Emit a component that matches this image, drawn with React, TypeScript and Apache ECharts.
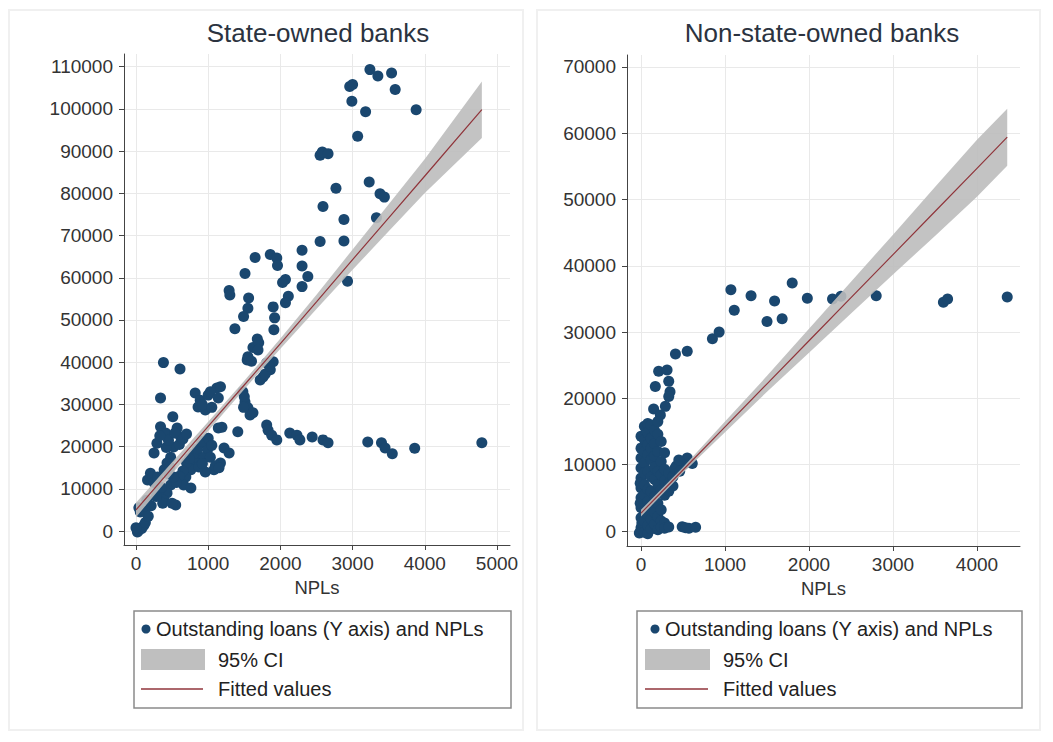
import React, { useEffect, useRef } from "react";
import * as echarts from "echarts";

const FONT = "'Liberation Sans', Arial, Helvetica, sans-serif";

// ---------- Tick labels ----------
const xTicksLeft = [0, 1000, 2000, 3000, 4000, 5000];
const yTicksLeft = [0, 10000, 20000, 30000, 40000, 50000, 60000, 70000, 80000, 90000, 100000, 110000];
const xTicksRight = [0, 1000, 2000, 3000, 4000];
const yTicksRight = [0, 10000, 20000, 30000, 40000, 50000, 60000, 70000];

// ---------- State-owned banks: scatter (NPLs, outstanding loans) ----------
const stateNPLs = [
  3240, 3350, 3540, 2960, 3000, 3590, 2990, 3180, 3880, 3070, 2550, 2580, 2660, 3230, 3380, 3440, 2770, 2590, 2880, 3330, 2880, 2550, 2930,
  1650, 1860, 1950, 1960, 1510, 2300, 2300, 2380, 2300, 2070, 2030, 1290, 1300, 1560, 2110, 2070, 1550, 1490, 1900, 1920, 1910, 1370, 1680, 1620, 1700, 1550, 1540, 1690, 1600, 1810, 1900, 1860, 1760, 1720, 1790, 1850,
  380, 610, 340, 510, 820, 890, 1000, 1120, 1030, 1140, 860, 960, 920, 1050, 1170, 1480, 1510, 1550, 1580, 1500, 1620, 1490, 1140, 1410, 1190,
  1810, 1830, 1880, 1950, 2130, 2230, 2270, 2440, 2590, 2660, 3210, 3400, 3450, 3550, 3860, 4790,
  340, 410, 290, 250, 570, 620, 520, 480, 430, 390, 200, 160, 230, 940, 990, 900, 830, 760, 690, 660, 760, 1030, 1170, 1080, 960, 1220, 1290,
  480, 430, 390, 550, 300, 150, 370, 500, 40, 60, 40, 110, 20, 80, 0, 130,
  800, 850, 910, 1000, 1050, 700, 740, 650, 600, 870, 920, 1100, 1150, 560, 520, 450, 470, 350, 280, 210, 120, 170, 250, 300, 420, 450, 540, 330, 600, 650, 700,
];
const stateLoans = [
  109300, 107800, 108500, 105300, 105800, 104600, 101800, 99300, 99800, 93500, 89000, 89800, 89400, 82700, 79900, 79100, 81200, 76900, 73800, 74200, 68700, 68600, 59200,
  64800, 65500, 64700, 62900, 61000, 66500, 62800, 60300, 57900, 59600, 58900, 57000, 55900, 55200, 55600, 54100, 52800, 50800, 53100, 50500, 47700, 47900, 45500, 43500, 44600, 41300, 40500, 42900, 40200, 39800, 40100, 38200, 36500, 35800, 37200, 39000,
  39900, 38400, 31500, 27100, 32700, 31000, 32200, 33900, 33000, 31500, 29400, 28700, 29900, 29300, 34200, 33000, 30600, 29200, 27500, 31800, 28000, 29300, 24400, 23500, 24600,
  25100, 23900, 22700, 21600, 23200, 22700, 21600, 22300, 21600, 20900, 21100, 20900, 19700, 18300, 19600, 20900,
  24700, 23200, 20800, 18500, 24400, 22300, 19900, 17500, 16100, 14500, 13700, 12100, 12800, 20800, 19200, 17500, 16100, 14500, 12800, 10900, 10200, 17500, 16100, 14500, 14000, 19700, 18500,
  10900, 9000, 7300, 6200, 9000, 7300, 6600, 6600, 5500, 4500, 200, 1400, -200, 600, 800, 2000,
  18300, 19500, 21200, 22000, 20300, 16200, 17200, 14200, 13000, 15200, 16000, 15500, 15000, 11500, 12800, 13500, 15200, 10300, 8200, 6000, 4800, 3500, 11500, 12800, 19800, 21500, 23200, 22600, 20500, 21800, 23000,
];

// ---------- State-owned banks: fitted values and 95% CI ----------
const stateFitX = [0, 500, 1000, 1500, 2000, 2500, 3000, 3500, 4000, 4790];
const stateFitY = [5000, 14900, 24800, 34600, 44400, 54300, 64300, 74200, 84100, 99800];
const stateCiLow = [3300, 13500, 23700, 33600, 43200, 52600, 61900, 71000, 80100, 93100];
const stateCiHigh = [6700, 16300, 25900, 35600, 45600, 56000, 66700, 77400, 88100, 106500];

// ---------- Non-state-owned banks: scatter ----------
const nonStateNPLs = [
  1070, 1310, 1110, 1590, 1800, 1500, 1680, 1980, 2280, 2380, 2800, 3600, 3650, 4360,
  850, 930, 410, 550, 210, 310, 170, 330, 345, 330, 290, 150, 230,
  470, 550, 610, 500, 420, 490, 570, 650, 530,
  0, 0, 0, 0, 0, 0, 0, 0, 0, 0, -20, 10, -10, -10,
  40, 40, 40, 40, 40, 40, 40, 40, 40, 40,
  80, 80, 80, 80, 80, 80, 80, 80, 80, 80,
  120, 120, 120, 120, 120, 120, 120, 120, 120,
  160, 160, 160, 160, 160, 160, 160, 160,
  200, 200, 200, 200, 200, 200, 200, 200,
  240, 240, 240, 240, 240, 240, 240,
  280, 280, 280, 280, 280, 280,
  330, 330, 330, 330, 380, 380, 400, 450, 460,
];
const nonStateLoans = [
  36400, 35500, 33300, 34700, 37400, 31600, 32000, 35100, 35000, 35400, 35500, 34500, 35000, 35300,
  29000, 30000, 26700, 27100, 24100, 24300, 21800, 22600, 21000, 20300, 18800, 18400, 17500,
  10500, 11000, 10200, 10000, 9800, 650, 400, 560, 500,
  14300, 12500, 11000, 9500, 8000, 6500, 5000, 3500, 2000, 500, -300, 1200, 7200, 4200,
  15800, 13800, 12000, 10300, 8800, 7000, 5500, 3000, 1500, -200,
  16200, 14800, 13000, 11500, 9000, 6300, 4500, 2500, 800, -400,
  16000, 14000, 12500, 10800, 8200, 6000, 3800, 1800, 300,
  15200, 13200, 11300, 9600, 7800, 5200, 2800, 1000,
  16500, 14600, 12000, 9000, 7000, 4200, 2200, 200,
  13500, 10500, 8500, 6200, 3200, 1500, 600,
  11800, 9300, 7600, 5400, 1200, 400,
  8800, 7200, 6000, 600, 8200, 6800, 9400, 10700, 9000,
];

// ---------- Non-state-owned banks: fitted values and 95% CI ----------
const nonStateFitX = [0, 500, 1000, 1500, 2000, 2500, 3000, 3500, 4000, 4360];
const nonStateFitY = [2700, 9200, 15700, 22200, 28700, 35200, 41700, 48200, 54700, 59400];
const nonStateCiLow = [2200, 8800, 14900, 21000, 26900, 32800, 38700, 44500, 50400, 55100];
const nonStateCiHigh = [3200, 9600, 16500, 23400, 30500, 37600, 44700, 51900, 59000, 63700];

const NAVY = "#1a476f";
const MAROON = "#90353b";
const CI_GRAY = "#bdbdbd";

function pairs(xs: number[], ys: number[]) {
  return xs.map((x, i) => [x, ys[i]]);
}

const plainNumber = (v: number) => String(Math.round(v));

function xAxisFor(gridIndex: number, min: number, max: number, ticks: number[]) {
  return {
    type: "value",
    gridIndex,
    min,
    max,
    name: "NPLs",
    nameLocation: "middle",
    nameGap: 31,
    nameTextStyle: { fontSize: 18.5, color: "#333", fontFamily: FONT },
    axisLine: { show: true, onZero: false, lineStyle: { color: "#444", width: 1 } },
    axisTick: { show: true, length: 5, customValues: ticks, lineStyle: { color: "#444" } },
    axisLabel: { customValues: ticks, formatter: plainNumber, fontSize: 19, color: "#333", margin: 9, fontFamily: FONT },
    splitLine: { show: true, lineStyle: { color: "#e9e9e9", width: 1 } },
  };
}

function yAxisFor(gridIndex: number, min: number, max: number, ticks: number[]) {
  return {
    type: "value",
    gridIndex,
    min,
    max,
    axisLine: { show: true, onZero: false, lineStyle: { color: "#444", width: 1 } },
    axisTick: { show: true, length: 5, customValues: ticks, lineStyle: { color: "#444" } },
    axisLabel: { customValues: ticks, formatter: plainNumber, fontSize: 19, color: "#333", margin: 11, fontFamily: FONT },
    splitLine: { show: true, lineStyle: { color: "#e9e9e9", width: 1 } },
  };
}

function panelSeries(
  idx: number,
  px: number[],
  py: number[],
  fx: number[],
  fy: number[],
  lo: number[],
  hi: number[]
) {
  return [
    {
      name: "Outstanding loans (Y axis) and NPLs",
      type: "scatter",
      xAxisIndex: idx,
      yAxisIndex: idx,
      data: pairs(px, py),
      symbol: "circle",
      symbolSize: 11,
      itemStyle: { color: NAVY, opacity: 1 },
      z: 2,
    },
    {
      name: "95% CI",
      type: "custom",
      xAxisIndex: idx,
      yAxisIndex: idx,
      data: fx.map((x, i) => [x, lo[i], hi[i]]),
      encode: { x: 0, y: [1, 2] },
      renderItem: (params: any, api: any) => {
        if (params.dataIndex !== 0) return null;
        const upper = fx.map((x, i) => api.coord([x, hi[i]]));
        const lower = fx.map((x, i) => api.coord([x, lo[i]])).reverse();
        return {
          type: "polygon",
          shape: { points: upper.concat(lower) },
          style: { fill: CI_GRAY, opacity: 0.9 },
        };
      },
      z: 3,
    },
    {
      name: "Fitted values",
      type: "line",
      xAxisIndex: idx,
      yAxisIndex: idx,
      data: pairs(fx, fy),
      symbol: "none",
      lineStyle: { color: MAROON, width: 1.2 },
      z: 4,
    },
  ];
}

function legendGraphics(boxX: number, boxW: number, dotX: number, textX: number, rectX: number, rectW: number, text2X: number) {
  const tStyle = { fontSize: 20, fontFamily: FONT, fill: "#222", textVerticalAlign: "middle", verticalAlign: "middle" };
  return [
    {
      type: "rect",
      shape: { x: boxX, y: 611, width: boxW, height: 97 },
      style: { fill: "#fff", stroke: "#8a8a8a", lineWidth: 1.5 },
    },
    { type: "circle", shape: { cx: dotX, cy: 629, r: 4.5 }, style: { fill: NAVY } },
    { type: "text", x: textX, y: 629, style: { ...tStyle, text: "Outstanding loans (Y axis) and NPLs" } },
    { type: "rect", shape: { x: rectX, y: 649, width: rectW, height: 21 }, style: { fill: "#bfbfbf" } },
    { type: "text", x: text2X, y: 660, style: { ...tStyle, text: "95% CI" } },
    {
      type: "line",
      shape: { x1: rectX, y1: 689, x2: rectX + rectW - 2, y2: 689 },
      style: { stroke: MAROON, lineWidth: 1.5 },
    },
    { type: "text", x: text2X, y: 689, style: { ...tStyle, text: "Fitted values" } },
  ];
}

export default function App() {
  const ref = useRef<HTMLDivElement>(null);

  useEffect(() => {
    if (!ref.current) return;
    const chart = echarts.init(ref.current, null, { renderer: "svg" });
    const titleStyle = {
      fontSize: 26,
      fontFamily: FONT,
      fill: "#2b3340",
      textAlign: "center",
      align: "center",
      textVerticalAlign: "middle",
      verticalAlign: "middle",
    };
    chart.setOption({
      animation: false,
      backgroundColor: "#ffffff",
      textStyle: { fontFamily: FONT },
      grid: [
        { left: 124, top: 54, width: 386, height: 491 },
        { left: 627, top: 55, width: 393, height: 491 },
      ],
      xAxis: [xAxisFor(0, -166, 5180, xTicksLeft), xAxisFor(1, -167, 4512, xTicksRight)],
      yAxis: [yAxisFor(0, -3300, 113000, yTicksLeft), yAxisFor(1, -2262, 71800, yTicksRight)],
      series: [
        ...panelSeries(0, stateNPLs, stateLoans, stateFitX, stateFitY, stateCiLow, stateCiHigh),
        ...panelSeries(1, nonStateNPLs, nonStateLoans, nonStateFitX, nonStateFitY, nonStateCiLow, nonStateCiHigh),
      ],
      graphic: [
        {
          type: "rect",
          z: -10,
          shape: { x: 9, y: 10, width: 514, height: 720 },
          style: { fill: "none", stroke: "#f0f0f0", lineWidth: 2 },
        },
        {
          type: "rect",
          z: -10,
          shape: { x: 537, y: 10, width: 503, height: 720 },
          style: { fill: "none", stroke: "#f0f0f0", lineWidth: 2 },
        },
        { type: "text", x: 318, y: 33, style: { ...titleStyle, text: "State-owned banks" } },
        { type: "text", x: 822, y: 33, style: { ...titleStyle, text: "Non-state-owned banks" } },
        ...legendGraphics(134, 377, 146, 156, 141, 64, 218),
        ...legendGraphics(637, 385, 655, 665, 645, 65, 723),
      ],
    });
    return () => chart.dispose();
  }, []);

  return (
    <div
      ref={ref}
      style={{ position: "fixed", left: 0, top: 0, width: 1053, height: 742, background: "#fff" }}
    />
  );
}
